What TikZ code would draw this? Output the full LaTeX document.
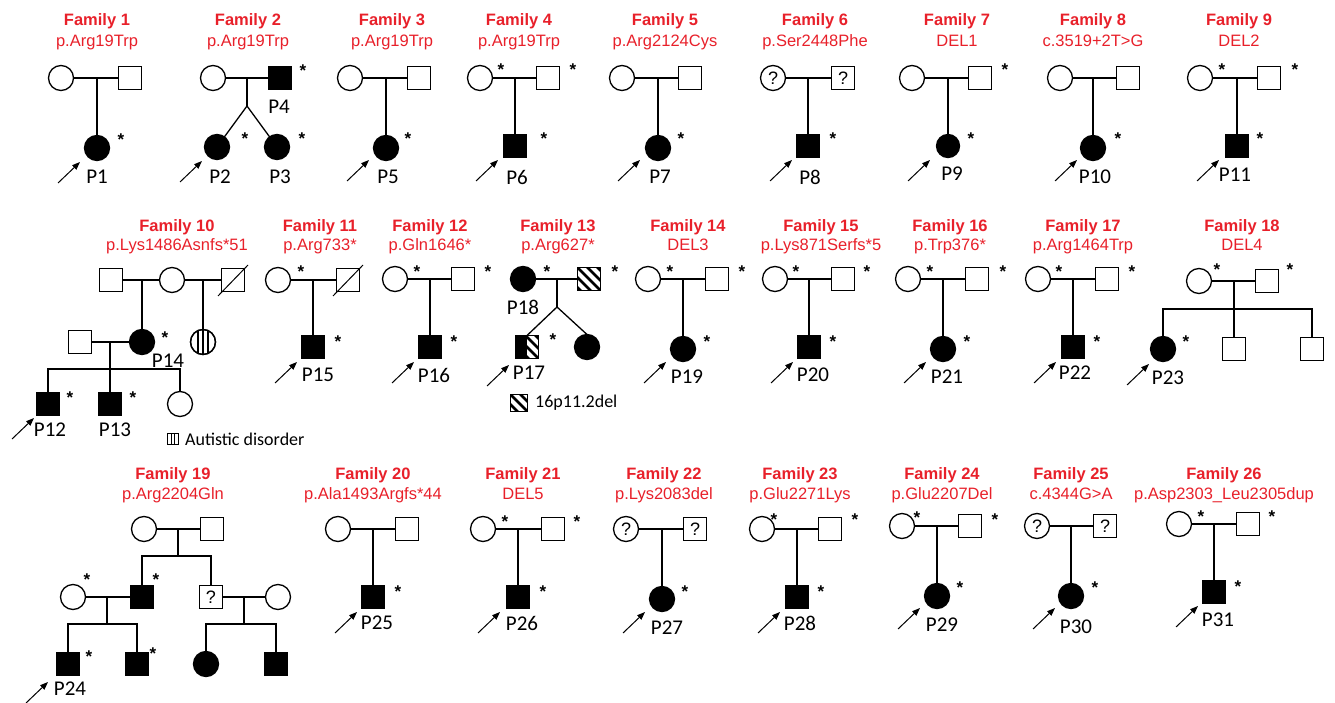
\documentclass[tikz,border=0pt]{standalone}
\usepackage{fontspec}
\setmainfont{Liberation Sans}
\newfontfamily\calfont{Carlito}
\usetikzlibrary{arrows.meta}
\definecolor{famred}{RGB}{232,32,42}
\newcommand\Trio[9]{%
  \node[fem] (#1m) at (#2,#4) {#8};
  \node[mal] (#1f) at (#3,#4) {#9};
  \draw[ln] (#1m) -- (#1f);
  \coordinate (#1j) at (#5,#4);
  \node[#6] (#1c) at (#5,#7) {};
  \draw[ln] (#1j) -- (#1c);}
\newcommand\AS[3]{\node[ast] (#1) at (#2,#3) {*};}
\newcommand\PL[4]{\node[plab] (#1) at (#2,#3) {#4};}
\newcommand\Arr[3]{\coordinate (#1s) at (#2,#3); \coordinate (#1e) at (#2+22,#3-21); \draw[prb] (#1s) -- (#1e);}
\newcommand\Fam[6]{\node[ttl] (#1a) at (#2,#3) {#5}; \node[subt] (#1b) at (#2,#4) {#6};}
\newcommand\Dec[1]{\draw[line width=1pt] ([shift={(-15,16)}]#1.center) -- ([shift={(15,-15)}]#1.center);}
\newcommand\HatchSq[5]{% x, y, half size, x-left clip, stripe width
  \begin{scope}
    \clip (#4,#2-#3) rectangle (#1+#3,#2+#3);
    \foreach \c in {-30,-20,-10,0,10,20,30}
      \draw[line width=#5] (#1+\c-#3-3,#2-#3-3) -- ++(2*#3+6,2*#3+6);
  \end{scope}}
\begin{document}
\begin{tikzpicture}[x=1pt,y=-1pt,
  ln/.style={line width=1.3pt},
  fem/.style={circle,draw,line width=1.3pt,minimum size=25pt,inner sep=0pt,outer sep=0pt,fill=white,font=\fontsize{18}{18}\selectfont},
  mal/.style={rectangle,draw,line width=1.3pt,minimum size=23pt,inner sep=0pt,outer sep=0pt,fill=white,font=\fontsize{18}{18}\selectfont},
  aff/.style={fill=black},
  ast/.style={font=\fontsize{17}{17}\selectfont\bfseries,inner sep=0pt,anchor=north,yshift=4pt},
  plab/.style={font=\calfont\fontsize{21}{21}\selectfont,inner sep=0pt},
  lgt/.style={font=\calfont\fontsize{18}{18}\selectfont,inner sep=0pt,anchor=west},
  ttl/.style={font=\fontsize{16.5}{18}\selectfont\bfseries,text=famred,anchor=base,inner sep=0pt},
  subt/.style={font=\fontsize{16.5}{18}\selectfont,text=famred,anchor=base,inner sep=0pt},
  prb/.style={line width=1pt,-{Triangle[length=8pt,width=6pt]}},
]
\useasboundingbox (0,0) rectangle (1335,703);

% ===================== ROW 1 =====================
\Fam{t1}{97}{26}{47}{Family 1}{p.Arg19Trp}
\Trio{f1}{61}{130}{78}{97}{fem,aff}{148}{}{}
\AS{a1}{121}{138} \PL{L1}{97}{177}{P1} \Arr{r1}{58}{183}

\Fam{t2}{248}{26}{47}{Family 2}{p.Arg19Trp}
\node[fem] (f2m) at (213,78) {};
\node[mal,aff] (f2f) at (280,78) {};
\draw[ln] (f2m) -- (f2f);
\coordinate (f2j) at (247,78);
\coordinate (f2s) at (247,106);
\node[fem,aff] (f2c1) at (217,147) {};
\node[fem,aff] (f2c2) at (277,147) {};
\draw[ln] (f2j) -- (f2s);
\draw[ln] (f2s) -- (f2c1);
\draw[ln] (f2s) -- (f2c2);
\AS{a2}{303}{69} \AS{a3}{245}{137} \AS{a4}{302}{137}
\PL{L4}{279}{107}{P4} \PL{L2}{220}{177}{P2} \PL{L3}{280}{177}{P3}
\Arr{r2}{180}{182}

\Fam{t3}{392}{26}{47}{Family 3}{p.Arg19Trp}
\Trio{f3}{350}{419}{78}{386}{fem,aff}{148}{}{}
\AS{a5}{408}{137} \PL{L5}{388}{177}{P5} \Arr{r3}{347}{181}

\Fam{t4}{519}{26}{47}{Family 4}{p.Arg19Trp}
\Trio{f4}{480}{548}{78}{515}{mal,aff}{146}{}{}
\AS{a6}{501}{68} \AS{a7}{573}{68} \AS{a8}{544}{137}
\PL{L6}{517}{177}{P6} \Arr{r4}{476}{181}

\Fam{t5}{665}{26}{47}{Family 5}{p.Arg2124Cys}
\Trio{f5}{622}{690}{78}{658}{fem,aff}{148}{}{}
\AS{a9}{681}{137} \PL{L7}{660}{177}{P7} \Arr{r5}{618}{181}

\Fam{t6}{815}{26}{47}{Family 6}{p.Ser2448Phe}
\Trio{f6}{773}{843}{78}{808}{mal,aff}{146}{?}{?}
\AS{a10}{833}{137} \PL{L8}{810}{177}{P8} \Arr{r6}{770}{181}

\Fam{t7}{957}{26}{47}{Family 7}{DEL1}
\Trio{f7}{912}{980}{78}{948}{fem,aff,minimum size=23pt}{146}{}{}
\AS{a11}{1005}{68} \AS{a12}{971}{137} \PL{L9}{952}{174}{P9} \Arr{r7}{908}{181}

\Fam{t8}{1093}{26}{47}{Family 8}{c.3519+2T>G}
\Trio{f8}{1060}{1128}{78}{1093}{fem,aff}{148}{}{}
\AS{a13}{1118}{137} \PL{L10}{1095}{177}{P10} \Arr{r8}{1055}{181}

\Fam{t9}{1239}{26}{47}{Family 9}{DEL2}
\Trio{f9}{1200}{1269}{78}{1237}{mal,aff}{146}{}{}
\AS{a14}{1222}{68} \AS{a15}{1295}{68} \AS{a16}{1260}{137}
\PL{L11}{1235}{175}{P11} \Arr{r9}{1197}{181}

% ===================== ROW 2 =====================
\Fam{t10}{177}{232}{251}{Family 10}{p.Lys1486Asnfs*51}
\node[mal] (k1) at (111,280) {};
\node[fem] (k2) at (172,280) {};
\node[mal] (k3) at (233,280) {};
\Dec{k3}
\draw[ln] (k1) -- (k2);
\draw[ln] (k2) -- (k3);
\coordinate (k1j) at (142,280);
\coordinate (k2j) at (203,280);
\node[mal] (k4) at (80,342) {};
\node[fem] (k5) at (142,342) {};
\fill (k5.center) circle (12.5pt);
\node[fem] (k6) at (203,342) {};
\begin{scope}
  \clip (203,342) circle (12pt);
  \foreach \d in {-5,0,5} \draw[line width=1.1pt] (203+\d,325) -- (203+\d,360);
\end{scope}
\draw[ln] (k6.center) circle (12.5pt);
\draw[ln] (k1j) -- (k5);
\draw[ln] (k2j) -- (k6);
\draw[ln] (k4) -- (k5);
\coordinate (k4j) at (110,342);
\coordinate (k4s) at (110,369);
\node[mal,aff] (k7) at (48,404) {};
\node[mal,aff] (k8) at (110,404) {};
\node[fem] (k9) at (180,404) {};
\draw[ln] (k7) |- (k4s) -| (k9);
\draw[ln] (k4j) -- (k8);
\AS{a17}{165}{336} \AS{a18}{70}{396} \AS{a19}{133}{396}
\PL{L14}{168}{361}{P14} \PL{L12}{50}{430}{P12} \PL{L13}{115}{430}{P13}
\Arr{r10}{12}{439}
\node[draw,line width=1pt,minimum size=11pt,inner sep=0pt] (lg1) at (173,439) {};
\draw[line width=1pt] ([xshift=-1.8pt]lg1.north) -- ([xshift=-1.8pt]lg1.south);
\draw[line width=1pt] ([xshift=1.8pt]lg1.north) -- ([xshift=1.8pt]lg1.south);
\node[lgt] (lg1t) at (185,439) {Autistic disorder};

\Fam{t11}{320}{232}{251}{Family 11}{p.Arg733*}
\Trio{f11}{278}{348}{280}{313}{mal,aff}{347}{}{}
\Dec{f11f}
\AS{a20}{301}{270} \AS{a21}{338}{340}
\PL{L15}{318}{375}{P15} \Arr{r11}{275}{383}

\Fam{t12}{430}{232}{251}{Family 12}{p.Gln1646*}
\Trio{f12}{395}{463}{279}{430}{mal,aff}{347}{}{}
\AS{a22}{417}{270} \AS{a23}{488}{270} \AS{a24}{454}{340}
\PL{L16}{434}{375}{P16} \Arr{r12}{392}{383}

\Fam{t13}{558}{232}{251}{Family 13}{p.Arg627*}
\node[fem,aff] (h1) at (523,279) {};
\node[mal] (h2) at (589,279) {};
\HatchSq{589}{279}{11.5}{577.5}{2.8pt}
\draw[ln] (h2.north west) rectangle (h2.south east);
\draw[ln] (h1) -- (h2);
\coordinate (h1j) at (557,279);
\coordinate (h1s) at (557,307);
\node[mal] (h3) at (527,347) {};
\fill (h3.north west) rectangle (h3.south);
\HatchSq{527}{347}{11.5}{527}{2.8pt}
\draw[ln] (h3.north west) rectangle (h3.south east);
\node[fem,aff] (h4) at (587,347) {};
\draw[ln] (h1j) -- (h1s);
\draw[ln] (h1s) -- (h3.north);
\draw[ln] (h1s) -- (h4.north);
\AS{a25}{547}{270} \AS{a26}{615}{270} \AS{a27}{553}{338}
\PL{L18}{523}{307}{P18} \PL{L17}{529}{373}{P17}
\Arr{r13}{487}{386}
\node[minimum size=17pt,inner sep=0pt] (lg2) at (519,403) {};
\HatchSq{519}{403}{8.5}{510.5}{2.6pt}
\draw[line width=1.2pt] (lg2.north west) rectangle (lg2.south east);
\node[lgt] (lg2t) at (535,403) {16p11.2del};

\Fam{t14}{688}{232}{251}{Family 14}{DEL3}
\Trio{f14}{648}{717}{279}{683}{fem,aff}{349}{}{}
\AS{a28}{670}{270} \AS{a29}{742}{270} \AS{a30}{707}{340}
\PL{L19}{687}{377}{P19} \Arr{r14}{644}{383}

\Fam{t15}{821}{232}{251}{Family 15}{p.Lys871Serfs*5}
\Trio{f15}{775}{843}{279}{809}{mal,aff}{347}{}{}
\AS{a31}{796}{270} \AS{a32}{867}{270} \AS{a33}{833}{340}
\PL{L20}{813}{375}{P20} \Arr{r15}{771}{383}

\Fam{t16}{950}{232}{251}{Family 16}{p.Trp376*}
\Trio{f16}{908}{977}{279}{943}{fem,aff}{349}{}{}
\AS{a34}{930}{270} \AS{a35}{1003}{270} \AS{a36}{967}{340}
\PL{L21}{947}{377}{P21} \Arr{r16}{904}{383}

\Fam{t17}{1083}{232}{251}{Family 17}{p.Arg1464Trp}
\Trio{f17}{1038}{1107}{279}{1073}{mal,aff}{347}{}{}
\AS{a37}{1059}{270} \AS{a38}{1132}{270} \AS{a39}{1097}{340}
\PL{L22}{1075}{373}{P22} \Arr{r17}{1034}{383}

\Fam{t18}{1242}{232}{251}{Family 18}{DEL4}
\node[fem] (e1) at (1199,281) {};
\node[mal] (e2) at (1267,281) {};
\draw[ln] (e1) -- (e2);
\coordinate (e1j) at (1234,281);
\coordinate (e1s) at (1234,309);
\node[fem,aff] (e3) at (1163,349) {};
\node[mal] (e4) at (1234,349) {};
\node[mal] (e5) at (1312,349) {};
\draw[ln] (e3) |- (e1s) -| (e5);
\draw[ln] (e1j) -- (e4);
\AS{a40}{1217}{268} \AS{a41}{1290}{268} \AS{a42}{1186}{340}
\PL{L23}{1168}{378}{P23} \Arr{r18}{1127}{385}

% ===================== ROW 3 =====================
\Fam{t19}{173}{479}{499}{Family 19}{p.Arg2204Gln}
\node[fem] (g1) at (144,529) {};
\node[mal] (g2) at (212,529) {};
\draw[ln] (g1) -- (g2);
\coordinate (g1j) at (178,529);
\coordinate (g1s) at (178,556);
\node[mal,aff] (g3) at (142,597) {};
\node[mal] (g4) at (211,597) {?};
\draw[ln] (g1j) -- (g1s);
\draw[ln] (g3) |- (g1s) -| (g4);
\node[fem] (g5) at (73,597) {};
\draw[ln] (g5) -- (g3);
\coordinate (g5j) at (107,597);
\coordinate (g5s) at (107,624);
\node[mal,aff] (g6) at (68,664) {};
\node[mal,aff] (g7) at (137,664) {};
\draw[ln] (g5j) -- (g5s);
\draw[ln] (g6) |- (g5s) -| (g7);
\node[fem] (g8) at (278,597) {};
\draw[ln] (g4) -- (g8);
\coordinate (g8j) at (244,597);
\coordinate (g8s) at (244,624);
\node[fem,aff] (g9) at (206,664) {};
\node[mal,aff] (g10) at (276,664) {};
\draw[ln] (g8j) -- (g8s);
\draw[ln] (g9) |- (g8s) -| (g10);
\AS{a43}{87}{578} \AS{a44}{156}{578} \AS{a45}{89}{655} \AS{a46}{153}{652}
\PL{L24}{70}{689}{P24} \Arr{r19}{26}{703}

\Fam{t20}{373}{479}{499}{Family 20}{p.Ala1493Argfs*44}
\Trio{f20}{338}{407}{529}{373}{mal,aff}{597}{}{}
\AS{a47}{398}{590} \PL{L25}{377}{623}{P25} \Arr{r20}{335}{633}

\Fam{t21}{523}{479}{499}{Family 21}{DEL5}
\Trio{f21}{483}{553}{529}{518}{mal,aff}{597}{}{}
\AS{a48}{505}{520} \AS{a49}{577}{520} \AS{a50}{543}{590}
\PL{L26}{522}{623}{P26} \Arr{r21}{478}{633}

\Fam{t22}{664}{479}{499}{Family 22}{p.Lys2083del}
\Trio{f22}{626}{695}{529}{662}{fem,aff}{599}{?}{?}
\AS{a51}{685}{590} \PL{L27}{667}{628}{P27} \Arr{r22}{623}{633}

\Fam{t23}{800}{479}{499}{Family 23}{p.Glu2271Lys}
\Trio{f23}{762}{830}{529}{797}{mal,aff}{597}{}{}
\AS{a52}{774}{518} \AS{a53}{855}{518} \AS{a54}{821}{590}
\PL{L28}{800}{623}{P28} \Arr{r23}{758}{633}

\Fam{t24}{942}{479}{499}{Family 24}{p.Glu2207Del}
\Trio{f24}{902}{970}{526}{937}{fem,aff}{596}{}{}
\AS{a55}{917}{516} \AS{a56}{995}{518} \AS{a57}{960}{586}
\PL{L29}{942}{625}{P29} \Arr{r24}{898}{629}

\Fam{t25}{1071}{479}{499}{Family 25}{c.4344G>A}
\Trio{f25}{1037}{1105}{526}{1071}{fem,aff}{596}{?}{?}
\AS{a58}{1095}{586} \PL{L30}{1076}{627}{P30} \Arr{r25}{1033}{629}

\Fam{t26}{1224}{479}{499}{Family 26}{p.Asp2303\_Leu2305dup}
\Trio{f26}{1179}{1248}{524}{1214}{mal,aff}{592}{}{}
\AS{a59}{1201}{515} \AS{a60}{1272}{515} \AS{a61}{1238}{585}
\PL{L31}{1218}{620}{P31} \Arr{r26}{1176}{627}
\end{tikzpicture}
\end{document}
